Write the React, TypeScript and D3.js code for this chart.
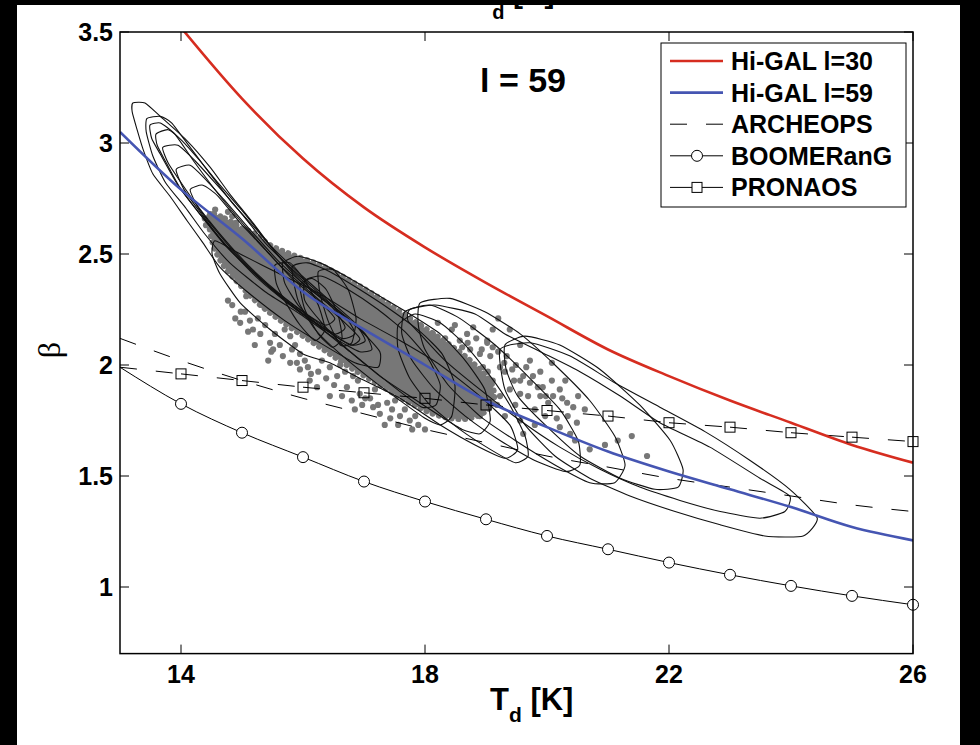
import React from "react";
import * as d3 from "d3";

type P = [number, number];

// ---- curves (T in K, beta) ----
const tempsFull = [13, 14, 15, 16, 17, 18, 19, 20, 21, 22, 23, 24, 25, 26];
const higal30Temps = [14, 15, 16, 17, 18, 19, 20, 21, 22, 23, 24, 25, 26];
const higal30Beta = [3.52, 3.2, 2.93, 2.71, 2.53, 2.37, 2.22, 2.07, 1.95, 1.84, 1.74, 1.64, 1.56];
const higal59Beta = [3.05, 2.79, 2.57, 2.33, 2.16, 2.0, 1.84, 1.72, 1.61, 1.52, 1.44, 1.36, 1.27, 1.21];
const archeopsBeta = [2.12, 2.02, 1.93, 1.85, 1.78, 1.71, 1.65, 1.59, 1.54, 1.49, 1.45, 1.41, 1.37, 1.34];
const boomerangBeta = [1.99, 1.825, 1.695, 1.585, 1.475, 1.385, 1.305, 1.23, 1.17, 1.11, 1.055, 1.005, 0.96, 0.92];
const pronaosBeta = [1.99, 1.96, 1.93, 1.9, 1.875, 1.85, 1.82, 1.795, 1.77, 1.74, 1.72, 1.695, 1.675, 1.655];

const xTicks = [14, 18, 22, 26];
const yTicks = [1, 1.5, 2, 2.5, 3, 3.5];
const legendLabels = ["Hi-GAL l=30", "Hi-GAL l=59", "ARCHEOPS", "BOOMERanG", "PRONAOS"];

// ---- contours (T, beta) ----
const contourA1: P[] = [[13.21,3.18],[13.41,3.18],[13.66,3.12],[14.10,3.01],[14.48,2.89],[14.80,2.77],[15.18,2.64],[15.57,2.50],[15.95,2.38],[16.44,2.27],[16.93,2.16],[17.26,2.06],[17.23,1.99],[16.85,2.01],[16.28,2.10],[15.70,2.20],[15.13,2.32],[14.64,2.44],[14.36,2.55],[14.10,2.65],[13.82,2.76],[13.54,2.86],[13.38,2.97],[13.28,3.06],[13.20,3.14]];
const contourA2: P[] = [[13.44,3.11],[13.66,3.12],[13.85,3.09],[14.15,2.98],[14.48,2.86],[14.84,2.73],[15.30,2.59],[15.70,2.46],[16.11,2.35],[16.61,2.24],[17.02,2.14],[17.13,2.07],[16.93,2.06],[16.52,2.12],[15.95,2.23],[15.38,2.33],[14.80,2.46],[14.39,2.59],[14.07,2.71],[13.75,2.82],[13.54,2.94],[13.43,3.05]];
const contourA3: P[] = [[13.59,3.04],[13.79,3.06],[14.02,3.01],[14.31,2.92],[14.64,2.81],[15.05,2.68],[15.46,2.54],[15.95,2.41],[16.44,2.29],[16.85,2.19],[17.02,2.11],[16.80,2.09],[16.36,2.16],[15.79,2.27],[15.21,2.41],[14.72,2.54],[14.31,2.68],[13.98,2.80],[13.74,2.92],[13.61,2.99]];
const contourA4: P[] = [[13.70,2.98],[13.95,2.99],[14.23,2.92],[14.56,2.82],[14.97,2.69],[15.38,2.55],[15.87,2.42],[16.36,2.30],[16.74,2.20],[16.85,2.14],[16.64,2.12],[16.20,2.20],[15.62,2.32],[15.10,2.45],[14.64,2.59],[14.26,2.72],[13.98,2.83],[13.79,2.91]];
const contourA5: P[] = [[13.92,2.88],[14.15,2.90],[14.39,2.84],[14.72,2.74],[15.13,2.61],[15.59,2.47],[16.03,2.36],[16.48,2.26],[16.69,2.17],[16.52,2.14],[16.11,2.21],[15.59,2.32],[15.10,2.44],[14.67,2.56],[14.31,2.69],[14.05,2.79]];
const contourA6: P[] = [[14.15,2.79],[14.36,2.81],[14.61,2.76],[14.97,2.64],[15.38,2.52],[15.82,2.39],[16.25,2.29],[16.52,2.21],[16.36,2.18],[15.95,2.25],[15.43,2.36],[14.97,2.48],[14.56,2.61],[14.28,2.71]];
const contourA7: P[] = [[13.49,3.08],[13.66,3.09],[13.90,3.04],[14.23,2.91],[14.67,2.75],[15.13,2.60],[15.62,2.45],[16.11,2.33],[16.61,2.21],[16.93,2.12],[16.77,2.09],[16.31,2.17],[15.79,2.27],[15.26,2.39],[14.77,2.53],[14.31,2.68],[13.95,2.81],[13.66,2.95],[13.52,3.02]];
const contourB1: P[] = [[15.67,2.46],[15.92,2.49],[16.28,2.46],[16.77,2.39],[17.26,2.31],[17.75,2.23],[18.25,2.14],[18.66,2.02],[18.98,1.89],[19.07,1.75],[18.90,1.69],[18.61,1.71],[18.25,1.77],[17.75,1.86],[17.26,1.95],[16.77,2.06],[16.28,2.17],[15.92,2.27],[15.70,2.37]];
const contourB2: P[] = [[15.82,2.44],[16.08,2.46],[16.44,2.42],[16.93,2.34],[17.43,2.25],[17.92,2.15],[18.28,2.05],[18.49,1.91],[18.44,1.77],[18.25,1.73],[18.00,1.76],[17.59,1.84],[17.10,1.94],[16.61,2.05],[16.20,2.16],[15.92,2.29]];
const contourB3: P[] = [[16.03,2.38],[16.31,2.40],[16.74,2.34],[17.23,2.25],[17.67,2.15],[18.05,2.03],[18.25,1.91],[18.18,1.82],[17.95,1.81],[17.59,1.88],[17.13,1.98],[16.69,2.08],[16.31,2.19],[16.03,2.29]];
const contourB4: P[] = [[15.95,2.36],[16.15,2.39],[16.38,2.34],[16.57,2.23],[16.64,2.12],[16.48,2.08],[16.25,2.14],[16.03,2.25]];
const contourB5: P[] = [[16.25,2.42],[16.49,2.43],[16.74,2.34],[16.87,2.21],[16.80,2.10],[16.61,2.09],[16.41,2.20],[16.28,2.32]];
const contourB6: P[] = [[15.54,2.45],[15.79,2.46],[16.03,2.38],[16.25,2.27],[16.36,2.16],[16.20,2.11],[15.95,2.18],[15.70,2.29],[15.56,2.37]];
const contourL1: P[] = [[14.56,2.56],[14.97,2.50],[15.62,2.41],[16.28,2.32],[16.93,2.21],[17.59,2.11],[18.25,2.00],[18.90,1.86],[19.39,1.73],[19.52,1.62],[19.31,1.58],[18.82,1.64],[18.25,1.73],[17.59,1.85],[16.93,1.94],[16.44,2.01],[16.00,2.05],[15.46,2.16],[14.97,2.28],[14.64,2.41],[14.51,2.50]];
const contourC1: P[] = [[17.56,2.18],[17.84,2.23],[18.25,2.19],[18.66,2.09],[19.07,1.95],[19.39,1.82],[19.64,1.68],[19.69,1.59],[19.48,1.56],[19.07,1.62],[18.57,1.71],[18.08,1.82],[17.75,1.94],[17.56,2.07]];
const contourC2: P[] = [[17.67,2.24],[18.08,2.27],[18.57,2.21],[19.15,2.09],[19.72,1.94],[20.21,1.80],[20.51,1.66],[20.54,1.55],[20.30,1.52],[19.80,1.57],[19.23,1.66],[18.66,1.77],[18.16,1.89],[17.79,2.02],[17.62,2.14]];
const contourC3: P[] = [[17.92,2.28],[18.41,2.30],[18.98,2.24],[19.56,2.14],[20.13,2.00],[20.70,1.84],[21.11,1.68],[21.28,1.55],[21.11,1.47],[20.70,1.47],[20.13,1.55],[19.48,1.66],[18.90,1.77],[18.38,1.91],[18.00,2.07],[17.89,2.18]];
const contourC4: P[] = [[19.31,2.09],[19.64,2.13],[20.21,2.09],[20.87,1.98],[21.52,1.82],[22.02,1.66],[22.23,1.53],[22.15,1.45],[21.77,1.44],[21.20,1.49],[20.54,1.59],[19.97,1.73],[19.52,1.86],[19.33,1.98]];
const contourDa: P[] = [[17.75,2.25],[18.16,2.27],[18.82,2.23],[19.31,2.14],[19.89,2.06],[20.54,1.97],[21.20,1.86],[21.85,1.74],[22.67,1.63],[23.49,1.49],[23.98,1.41],[23.90,1.34],[23.49,1.31],[22.84,1.34],[22.18,1.39],[21.52,1.45],[20.87,1.53],[20.21,1.63],[19.56,1.75],[18.90,1.89],[18.33,2.02],[17.92,2.14],[17.72,2.20]];
const contourDb: P[] = [[19.23,2.07],[19.72,2.10],[20.38,2.04],[21.11,1.92],[21.85,1.81],[22.59,1.70],[23.33,1.57],[23.98,1.44],[24.43,1.31],[24.20,1.23],[23.57,1.23],[22.84,1.28],[22.10,1.34],[21.36,1.41],[20.70,1.49],[20.13,1.59],[19.64,1.73],[19.31,1.89]];

const contours: P[][] = [contourA1, contourA2, contourA3, contourA4, contourA5, contourA6, contourA7, contourB1, contourB2, contourB3, contourB4, contourB5, contourB6, contourL1, contourC1, contourC2, contourC3, contourC4, contourDa, contourDb];

// ---- pixel (dust) scatter: dense core outline and isolated points ----
const denseCore: P[] = [[14.48,2.68],[14.72,2.66],[14.97,2.62],[15.21,2.59],[15.46,2.54],[15.79,2.50],[16.28,2.45],[16.77,2.38],[17.26,2.30],[17.75,2.21],[18.25,2.12],[18.74,2.02],[19.10,1.91],[19.10,1.82],[18.74,1.76],[18.25,1.77],[17.75,1.83],[17.26,1.91],[16.77,1.99],[16.28,2.08],[15.79,2.17],[15.30,2.27],[14.97,2.36],[14.67,2.46],[14.51,2.56]];

const scatterUpperLeft: P[] = [
  [14.48,2.68],[14.56,2.70],[14.66,2.66],[14.75,2.64],[14.41,2.63],[14.51,2.58],[14.84,2.67],[14.62,2.61],
  [14.39,2.66],[14.90,2.64],[15.05,2.61],[14.77,2.69]
];
const scatterLowerLeft: P[] = [
  [14.97,2.19],[15.30,2.14],[15.51,2.07],[15.67,2.04],[15.90,2.01],[16.11,1.93],[16.23,1.90],[15.79,2.13],
  [15.46,2.10],[15.18,2.16],[16.44,1.99],[16.56,1.95],[16.72,1.90],[16.82,1.95],[16.93,1.87],[17.15,1.81],
  [17.26,1.78],[17.38,1.83],[17.59,1.77],[14.98,2.24],[15.26,2.21],[15.48,2.06],[15.87,2.09],[16.03,2.02],
  [16.13,1.96],[14.77,2.29],[15.07,2.31],[15.33,2.27],[16.31,2.02],[17.02,1.85],[17.46,1.80],[17.75,1.75],
  [17.89,1.73],[18.00,1.71],[16.69,1.97],[15.70,2.16],
  [14.84,2.27],[15.05,2.24],[15.13,2.20],[15.38,2.18],[15.54,2.14],[15.62,2.09],[15.82,2.07],[15.95,2.05],
  [16.08,1.99],[16.25,1.97],[16.38,1.94],[16.51,1.91],[16.64,1.86],[16.80,1.84],[16.97,1.82],[17.10,1.85],
  [17.23,1.82],[17.43,1.76],[17.56,1.73],[17.67,1.80],[17.84,1.77],[15.95,1.98],[15.79,2.01],[15.43,2.02],
  [15.21,2.09],[15.10,2.15],[14.89,2.21],[16.61,2.00],[16.90,1.93],[17.18,1.89],[17.51,1.84],[17.79,1.71],
  [17.34,1.73],[16.85,1.80],[16.44,1.86]
];
const scatterUpperRight: P[] = [
  [18.13,2.14],[18.41,2.08],[18.57,2.11],[18.79,2.17],[19.02,2.10],[19.11,2.08],[19.34,2.04],[19.23,1.99],
  [18.95,1.99],[18.69,2.02],[18.46,2.01],[19.61,1.95],[19.77,1.95],[19.93,1.90],[20.21,1.89],[20.10,1.86],
  [19.89,1.86],[19.56,1.87],[19.72,1.92],[20.33,1.83],[20.43,1.81],[20.49,1.74],[20.38,1.69],[19.61,1.69],
  [18.90,1.77],[19.39,1.89],[19.11,1.93],[18.85,1.90],[18.30,2.04],[17.97,2.13],[18.25,2.10],[21.39,1.68],
  [21.64,1.59],[19.02,2.11],[18.69,2.14],[18.36,2.08],[19.11,2.16],[18.49,2.18],[18.74,2.07],[19.31,1.97],
  [19.46,1.93],[20.02,1.83],[19.80,1.80],[20.16,1.76],[18.61,1.87],[19.18,1.82],[19.31,1.77],[18.90,2.05],
  [18.52,1.96],[19.69,1.86],[19.49,2.00],[18.21,2.19],[17.92,2.18],
  [18.05,2.09],[18.18,2.06],[18.33,2.12],[18.44,2.16],[18.61,2.08],[18.70,2.10],[18.84,2.12],[18.93,2.07],
  [19.07,2.04],[19.20,2.06],[19.30,2.01],[19.43,1.98],[19.56,1.93],[19.66,1.99],[19.85,1.90],[19.98,1.86],
  [20.08,1.93],[20.25,1.85],[20.34,1.77],[19.97,1.77],[20.21,1.72],[20.46,1.66],[19.48,1.82],[19.23,1.86],
  [19.03,1.97],[18.77,1.94],[18.57,1.91],[18.41,1.95],[18.21,1.99],[18.08,2.02],[19.56,1.75],[19.80,1.73],
  [20.70,1.62],[20.95,1.64],[21.16,1.66],[19.20,2.21],[19.39,2.16],[19.56,2.09],[19.72,2.02],[19.89,1.97],
  [20.08,2.01],[20.30,1.93],[20.51,1.86],[20.62,1.80]
];

export default function App() {
  const W = 980, H = 745;
  const x = d3.scaleLinear().domain([13, 26]).range([120, 913]);
  const y = d3.scaleLinear().domain([0.7, 3.5]).range([653.6, 32]);
  const [x0, x1] = x.range();
  const [y0, y1] = y.range();

  const smoothLine = d3.line<P>().x(d => x(d[0])).y(d => y(d[1])).curve(d3.curveMonotoneX);
  const closedLine = d3.line<P>().x(d => x(d[0])).y(d => y(d[1])).curve(d3.curveCardinalClosed.tension(0.45));
  const blobLine = d3.line<P>().x(d => x(d[0])).y(d => y(d[1])).curve(d3.curveCatmullRomClosed.alpha(0.5));

  const red: P[] = higal30Temps.map((t, i) => [t, higal30Beta[i]]);
  const blue: P[] = tempsFull.map((t, i) => [t, higal59Beta[i]]);
  const arch: P[] = tempsFull.map((t, i) => [t, archeopsBeta[i]]);
  const boom: P[] = tempsFull.map((t, i) => [t, boomerangBeta[i]]);
  const pron: P[] = tempsFull.map((t, i) => [t, pronaosBeta[i]]);
  const dots = [...scatterUpperLeft, ...scatterLowerLeft, ...scatterUpperRight];

  const font = "'Liberation Sans', Arial, Helvetica, sans-serif";
  const tickLen = 9;
  const grey = "#777777";

  const legX0 = 661, legY0 = 43, legX1 = 906, legY1 = 207;
  const rowY = (i: number) => 61 + i * 31.6;

  return (
    <svg width={W} height={H} style={{ position: "fixed", left: 0, top: 0 }} xmlns="http://www.w3.org/2000/svg">
      <defs>
        <clipPath id="plotClip">
          <rect x={x0} y={y1} width={x1 - x0} height={y0 - y1} />
        </clipPath>
      </defs>
      <rect x={0} y={0} width={W} height={H} fill="#000" />
      <rect x={17} y={5} width={943} height={740} fill="#fff" />

      {/* title, cropped by the top edge of the figure */}
      <text x={474} y={3} fontFamily={font} fontWeight="bold" fontSize={30} fill="#000">
        T<tspan dy={16} fontSize={20}>d</tspan><tspan dy={-16} fontSize={30}> [K]</tspan>
      </text>
      <rect x={17} y={0} width={943} height={5} fill="#000" />

      <g clipPath="url(#plotClip)">
        {/* dust scatter */}
        <path d={blobLine(denseCore) || ""} fill={grey} stroke={grey} strokeWidth={6}
          strokeLinecap="round" strokeDasharray="0.1 6.5" />
        {dots.map((d, i) => (
          <circle key={i} cx={x(d[0])} cy={y(d[1])} r={3.1} fill={grey} />
        ))}
        {/* contours */}
        {contours.map((c, i) => (
          <path key={i} d={closedLine(c) || ""} fill="none" stroke="#111" strokeWidth={1.1} />
        ))}
        {/* reference curves */}
        <path d={smoothLine(boom) || ""} fill="none" stroke="#000" strokeWidth={1} />
        <path d={smoothLine(arch) || ""} fill="none" stroke="#000" strokeWidth={1} strokeDasharray="17 19" />
        {pron.slice(0, -1).map((p, i) => (
          <line key={i} x1={x(p[0])} y1={y(p[1])} x2={x(pron[i + 1][0])} y2={y(pron[i + 1][1])}
            stroke="#000" strokeWidth={1} strokeDasharray="17 19" />
        ))}
        <path d={smoothLine(blue) || ""} fill="none" stroke="#4555b2" strokeWidth={2.6} />
        <path d={smoothLine(red) || ""} fill="none" stroke="#d62d20" strokeWidth={2.6} />
      </g>
      {boom.filter(d => d[0] >= 14).map((d, i) => (
        <circle key={i} cx={x(d[0])} cy={y(d[1])} r={5.5} fill="#fff" stroke="#000" strokeWidth={1} />
      ))}
      {pron.filter(d => d[0] >= 14).map((d, i) => (
        <rect key={i} x={x(d[0]) - 5} y={y(d[1]) - 5} width={10} height={10} fill="none" stroke="#000" strokeWidth={1} />
      ))}

      {/* axes box */}
      <rect x={x0} y={y1} width={x1 - x0} height={y0 - y1} fill="none" stroke="#000" strokeWidth={1.5} />
      {xTicks.map(t => (
        <g key={t}>
          <line x1={x(t)} x2={x(t)} y1={y0} y2={y0 - tickLen} stroke="#000" strokeWidth={1} />
          <line x1={x(t)} x2={x(t)} y1={y1} y2={y1 + tickLen} stroke="#000" strokeWidth={1} />
          <text x={x(t)} y={y0 + 29} textAnchor="middle" fontFamily={font} fontWeight="bold" fontSize={25} fill="#000">{t}</text>
        </g>
      ))}
      {yTicks.map(t => (
        <g key={t}>
          <line x1={x0} x2={x0 + tickLen} y1={y(t)} y2={y(t)} stroke="#000" strokeWidth={1} />
          <line x1={x1} x2={x1 - tickLen} y1={y(t)} y2={y(t)} stroke="#000" strokeWidth={1} />
          <text x={x0 - 7} y={y(t) + 9} textAnchor="end" fontFamily={font} fontWeight="bold" fontSize={25} fill="#000">{t}</text>
        </g>
      ))}

      {/* axis labels */}
      <text x={490} y={710} fontFamily={font} fontWeight="bold" fontSize={31} fill="#000">
        T<tspan dy={12} fontSize={21}>d</tspan><tspan dy={-12} fontSize={31}> [K]</tspan>
      </text>
      <text transform="translate(60,350) rotate(-90)" textAnchor="middle" fontFamily="'Liberation Serif', 'DejaVu Serif', serif" fontSize={32} fill="#000">β</text>

      {/* annotation */}
      <text x={523} y={92} textAnchor="middle" fontFamily={font} fontWeight="bold" fontSize={34} fill="#000" style={{ whiteSpace: "pre" }}>l = 59</text>

      {/* legend */}
      <rect x={legX0} y={legY0} width={legX1 - legX0} height={legY1 - legY0} fill="#fff" stroke="#000" strokeWidth={1} />
      <line x1={670} x2={723} y1={rowY(0)} y2={rowY(0)} stroke="#d62d20" strokeWidth={2.6} />
      <line x1={670} x2={723} y1={rowY(1)} y2={rowY(1)} stroke="#4555b2" strokeWidth={2.6} />
      <line x1={670} x2={723} y1={rowY(2)} y2={rowY(2)} stroke="#000" strokeWidth={1} strokeDasharray="17 19" />
      <line x1={670} x2={723} y1={rowY(3)} y2={rowY(3)} stroke="#000" strokeWidth={1} />
      <circle cx={697} cy={rowY(3)} r={5.5} fill="#fff" stroke="#000" strokeWidth={1} />
      <line x1={670} x2={692} y1={rowY(4)} y2={rowY(4)} stroke="#000" strokeWidth={1} />
      <line x1={702} x2={723} y1={rowY(4)} y2={rowY(4)} stroke="#000" strokeWidth={1} />
      <rect x={692} y={rowY(4) - 5} width={10} height={10} fill="#fff" stroke="#000" strokeWidth={1} />
      {legendLabels.map((l, i) => (
        <text key={l} x={731} y={rowY(i) + 9} fontFamily={font} fontWeight="bold" fontSize={25} fill="#000">{l}</text>
      ))}
    </svg>
  );
}
